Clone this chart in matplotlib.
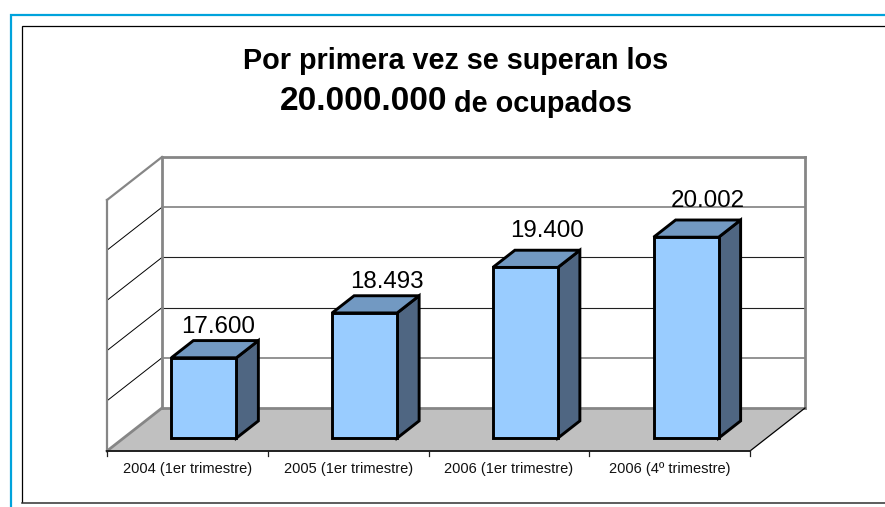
import matplotlib
matplotlib.use('Agg')
import matplotlib.pyplot as plt
from matplotlib.patches import Polygon

plt.rcParams['font.family'] = ['Liberation Sans', 'DejaVu Sans']

categories = ['2004 (1er trimestre)', '2005 (1er trimestre)', '2006 (1er trimestre)', '2006 (4º trimestre)']
values = [17600, 18493, 19400, 20002]
value_labels = ['17.600', '18.493', '19.400', '20.002']
grid_values = [17000, 18000, 19000, 20000]

vmin, vmax = 16000, 21000
W, H = 885, 507

# axis frame in pixels
x0_px, x1_px = 107, 750
y0_px, y1_px = 451, 200
depth_x_px, depth_y_px = 55, 43

fig = plt.figure(figsize=(W / 100, H / 100), dpi=100, facecolor='white')

# overlay in pixel coords for the outer frames
bg = fig.add_axes([0, 0, 1, 1])
bg.set_xlim(0, W)
bg.set_ylim(H, 0)
bg.axis('off')
bg.plot([10.5, 10.5, W], [H, 14.5, 14.5], color='#00a3dc', lw=1.6, solid_joinstyle='miter')
bg.plot([21.5, 21.5, W], [H - 5, 25.5, 25.5], color='#000000', lw=0.9, solid_joinstyle='miter')
bg.plot([21.5, W], [H - 4.5, H - 4.5], color='#303030', lw=1.1)

# chart axes: x = category position, y = value on the front plane
ax = fig.add_axes([0, 0, 1, 1], facecolor='none')
xs = (x1_px - x0_px) / len(categories)
ys = (y0_px - y1_px) / (vmax - vmin)
ax.set_xlim(-x0_px / xs, (W - x0_px) / xs)
ax.set_ylim(vmin - (H - y0_px) / ys, vmin + y0_px / ys)
ax.axis('off')


def pt(x, v, d=0.0):
    # project a point at depth d (0 front, 1 back)
    return x + d * depth_x_px / xs, v + d * depth_y_px / ys


def line(p, q, color, lw, z=1):
    ax.plot([p[0], q[0]], [p[1], q[1]], color=color, lw=lw, zorder=z, solid_capstyle='projecting')


n = len(categories)
wall = '#868686'

# floor
ax.add_patch(Polygon([pt(0, vmin), pt(0, vmin, 1), pt(n, vmin, 1), pt(n, vmin)], fc='#c0c0c0', ec='none', zorder=1))

# gridlines
grid_styles = [('#808080', 1.2), ('#202020', 0.8), ('#202020', 0.8), ('#808080', 1.2)]
for g, (c, w) in zip(grid_values, grid_styles):
    line(pt(0, g), pt(0, g, 1), '#000000', 0.7, 2)
    line(pt(0, g, 1), pt(n, g, 1), c, w, 2)

# walls
line(pt(0, vmin), pt(0, vmax), wall, 1.6, 3)
line(pt(0, vmax), pt(0, vmax, 1), wall, 1.6, 3)
line(pt(0, vmin, 1), pt(0, vmax, 1), wall, 2.0, 3)
line(pt(0, vmax, 1), pt(n, vmax, 1), wall, 2.0, 3)
line(pt(n, vmin, 1), pt(n, vmax, 1), wall, 2.0, 3)
line(pt(0, vmin, 1), pt(n, vmin, 1), wall, 2.0, 3)
line(pt(0, vmin), pt(0, vmin, 1), wall, 2.0, 3)
line(pt(n, vmin), pt(n, vmin, 1), '#000000', 0.9, 3)

# base axis and ticks
line(pt(0, vmin), pt(n, vmin), '#202020', 1.4, 4)
for i in range(n + 1):
    ax.plot([i, i], [vmin, vmin - 5 / ys], color='#202020', lw=0.9, zorder=4)

# bars
bar_w = 65 / xs
d0, d1 = 0.30, 0.70
label_lift = [14, 14, 19, 19]
label_shift = [-8, 0, 0, 0]
for i, v in enumerate(values):
    x = i + 0.5 - bar_w / 2
    front = [pt(x, vmin, d0), pt(x + bar_w, vmin, d0), pt(x + bar_w, v, d0), pt(x, v, d0)]
    top = [pt(x, v, d0), pt(x + bar_w, v, d0), pt(x + bar_w, v, d1), pt(x, v, d1)]
    side = [pt(x + bar_w, vmin, d0), pt(x + bar_w, vmin, d1), pt(x + bar_w, v, d1), pt(x + bar_w, v, d0)]
    ax.add_patch(Polygon(side, fc='#4f6682', ec='black', lw=2.1, zorder=5, joinstyle='miter'))
    ax.add_patch(Polygon(top, fc='#7299c2', ec='black', lw=2.1, zorder=5, joinstyle='miter'))
    ax.add_patch(Polygon(front, fc='#99ccff', ec='black', lw=2.1, zorder=6, joinstyle='miter'))
    cx, cy = pt(i + 0.5, v, d1)
    ax.text(cx + label_shift[i] / xs, cy + label_lift[i] / ys, value_labels[i], ha='center', va='center',
            fontsize=17.4, color='black', zorder=7)

# category labels
for i, c in enumerate(categories):
    ax.text(i + 0.5, vmin - 18 / ys, c, ha='center', va='center', fontsize=10.5, color='#111111', zorder=7)

# title
bg.text(456, 61, 'Por primera vez se superan los', ha='center', va='center', fontsize=20.7, fontweight='bold')
bg.text(280, 101, '20.000.000', ha='left', va='center', fontsize=24, fontweight='bold')
bg.text(632, 104, 'de ocupados', ha='right', va='center', fontsize=20.8, fontweight='bold')

fig.savefig('out.png', dpi=100)
